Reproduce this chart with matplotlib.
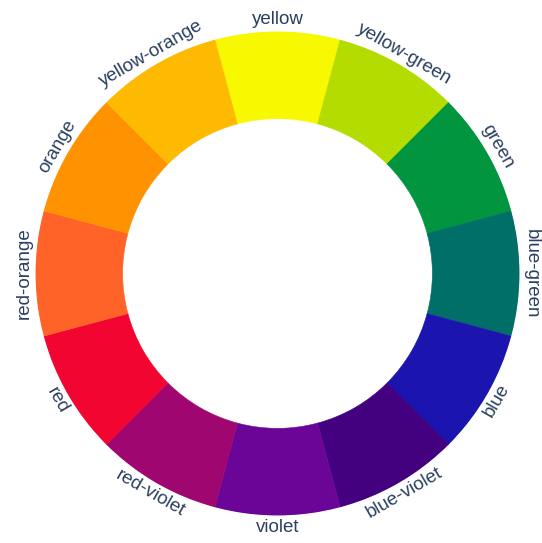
import matplotlib.pyplot as plt
import numpy as np

# colour wheel, clockwise from the top
NAMES = [
    "yellow", "yellow-green", "green", "blue-green", "blue", "blue-violet",
    "violet", "red-violet", "red", "red-orange", "orange", "yellow-orange",
]
COLORS = [
    "#F8F800", "#B5DC00", "#00953E", "#006F68", "#1C14AE", "#43007F",
    "#6A0597", "#A0066F", "#F20530", "#FF6328", "#FE9200", "#FEBA00",
]
SHARES = [1, 1, 1, 1, 1, 1, 1, 1, 1, 1, 1, 1]

INNER = 0.64
TEXT_COLOR = "#2a3f5f"

fig = plt.figure(figsize=(5.42, 5.43), dpi=100)
ax = fig.add_axes([35.5 / 542, 27.5 / 543, 484 / 542, 484 / 543],
                  projection="polar")
ax.set_theta_offset(np.pi / 2)
ax.set_theta_direction(-1)

total = sum(SHARES)
widths = np.array(SHARES) / total * 2 * np.pi
centers = np.cumsum(widths) - widths  # each wedge centred on its position

ax.bar(centers, 1 - INNER, width=widths, bottom=INNER, color=COLORS,
       edgecolor=COLORS, linewidth=0.4, align="center")
ax.set_ylim(0, 1)
ax.set_axis_off()

for name, theta in zip(NAMES, centers):
    math_angle = 90 - np.degrees(theta)
    math_angle = (math_angle + 180) % 360 - 180
    if math_angle == -180:
        math_angle = 180
    if 0 <= math_angle <= 180:
        rot = math_angle - 90
    else:
        rot = math_angle + 90
    ax.text(theta, 1.048, name, rotation=rot, rotation_mode="anchor",
            ha="center", va="center", fontsize=13.5, color=TEXT_COLOR,
            family=["Liberation Sans", "DejaVu Sans"], clip_on=False)

fig.savefig("out.png", dpi=100)
plt.close(fig)
